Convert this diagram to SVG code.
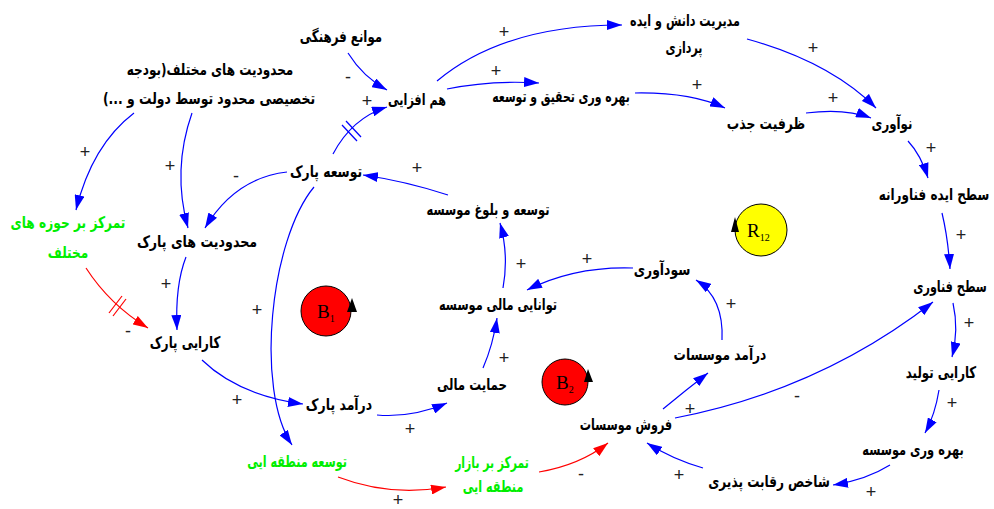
<svg xmlns="http://www.w3.org/2000/svg" width="994" height="509" viewBox="0 0 994 509">
<defs>
<style>
.n{font-family:"DejaVu Sans",sans-serif;font-weight:bold;font-size:16px;fill:#000;text-anchor:middle}
.g{fill:#00ee00}
.s{font-family:"Liberation Sans",sans-serif;font-size:18px;fill:#222;text-anchor:middle}
.c{fill:none;stroke:#0000ff;stroke-width:1.2;marker-end:url(#ab)}
.r{stroke:#ff0000;marker-end:url(#ar)}
.h{stroke:#0000ff;stroke-width:1.2}
.hr{stroke:#ff0000;stroke-width:1.2}
.loop{stroke:#000;stroke-width:1}
.lt{font-family:"Liberation Serif",serif;font-size:19px;fill:#000}
.sub{font-size:10px}
</style>
<marker id="ab" markerWidth="15" markerHeight="10" refX="15" refY="5" orient="auto" markerUnits="userSpaceOnUse"><path d="M0,0 L15,5 L0,10 z" fill="#0000ff"/></marker>
<marker id="ar" markerWidth="15" markerHeight="10" refX="15" refY="5" orient="auto" markerUnits="userSpaceOnUse"><path d="M0,0 L15,5 L0,10 z" fill="#ff0000"/></marker>
</defs>
<rect width="994" height="509" fill="#fff"/>

<g id="connectors">
<path class="c" d="M348,53 Q363,77 387,90"/>
<path class="c" d="M333,154 Q352,118 387,107"/>
<path class="c" d="M437,81 C480,45 540,25 622,25"/>
<path class="c" d="M447,89 Q490,80 539,83"/>
<path class="c" d="M635,93 Q690,92 725,108"/>
<path class="c" d="M747,39 Q830,62 876,108"/>
<path class="c" d="M806,113 Q845,108 871,118"/>
<path class="c" d="M908,141 Q921,155 928,178"/>
<path class="c" d="M942,213 Q948,238 950,269"/>
<path class="c" d="M953,303 Q959,330 952,357"/>
<path class="c" d="M939,390 Q935,415 925,433"/>
<path class="c" d="M890,465 Q866,480 833,485"/>
<path class="c" d="M703,468 Q672,459 647,443"/>
<path class="c" d="M675,418 Q820,390 933,302"/>
<path class="c" d="M663,409 Q686,390 708,373"/>
<path class="c" d="M722,340 Q724,298 696,280"/>
<path class="c" d="M633,268 Q575,266 527,290"/>
<path class="c" d="M483,368 Q493,345 497,318"/>
<path class="c" d="M503,288 Q509,255 500,223"/>
<path class="c" d="M448,195 Q405,181 363,175"/>
<path class="c" d="M287,172 Q235,178 205,228"/>
<path class="c" d="M192,113 Q172,170 188,228"/>
<path class="c" d="M134,113 Q92,145 76,210"/>
<path class="c" d="M186,257 Q175,285 177,330"/>
<path class="c r" d="M86,268 Q110,305 148,328"/>
<path class="c" d="M202,360 Q238,395 303,404"/>
<path class="c" d="M314,187 C270,240 255,390 292,445"/>
<path class="c" d="M377,415 Q412,418 447,403"/>
<path class="c r" d="M338,477 Q390,497 446,487"/>
<path class="c r" d="M539,472 Q580,465 608,443"/>
<line class="h" x1="342" y1="125" x2="357" y2="141"/>
<line class="h" x1="346" y1="121" x2="361" y2="137"/>
<line class="hr" x1="109" y1="313" x2="122" y2="296"/>
<line class="hr" x1="113" y1="316" x2="126" y2="299"/>
</g>

<g id="signs">
<text class="s" x="348" y="83">-</text>
<text class="s" x="367" y="107">+</text>
<text class="s" x="504" y="38">+</text>
<text class="s" x="496" y="77">+</text>
<text class="s" x="697" y="91">+</text>
<text class="s" x="813" y="54">+</text>
<text class="s" x="833" y="104">+</text>
<text class="s" x="931" y="154">+</text>
<text class="s" x="961" y="241">+</text>
<text class="s" x="969" y="329">+</text>
<text class="s" x="952" y="409">+</text>
<text class="s" x="871" y="498">+</text>
<text class="s" x="679" y="481">+</text>
<text class="s" x="797" y="402">-</text>
<text class="s" x="690" y="415">+</text>
<text class="s" x="731" y="310">+</text>
<text class="s" x="587" y="265">+</text>
<text class="s" x="504" y="364">+</text>
<text class="s" x="521" y="270">+</text>
<text class="s" x="417" y="174">+</text>
<text class="s" x="236" y="182">-</text>
<text class="s" x="170" y="172">+</text>
<text class="s" x="85" y="158">+</text>
<text class="s" x="166" y="290">+</text>
<text class="s" x="128" y="337">-</text>
<text class="s" x="237" y="406">+</text>
<text class="s" x="257" y="316">+</text>
<text class="s" x="410" y="435">+</text>
<text class="s" x="398" y="506">+</text>
<text class="s" x="581" y="480">-</text>
</g>

<g id="loop-B1">
<circle class="loop" cx="326" cy="311" r="25" fill="#ff0000"/>
<polygon points="347,312 352,298 357,312" fill="#000"/>
<text class="lt" x="317" y="318">B<tspan class="sub" dy="4">1</tspan></text>
</g>
<g id="loop-B2">
<circle class="loop" cx="565" cy="382" r="23" fill="#ff0000"/>
<polygon points="584,382 588,369 593,382" fill="#000"/>
<text class="lt" x="556" y="389">B<tspan class="sub" dy="4">2</tspan></text>
</g>
<g id="loop-R12">
<circle class="loop" cx="761" cy="230" r="26" fill="#ffff00"/>
<polygon points="731,232 735,217 739,232" fill="#000"/>
<text class="lt" x="747" y="237">R<tspan class="sub" dy="4">12</tspan></text>
</g>

<g id="n-mavane"><text class="n" transform="translate(341,42) scale(0.739,1)">موانع فرهنگی</text></g>
<g id="n-mahdudiat-mokhtalef"><text class="n" transform="translate(210,75) scale(0.755,1)">محدودیت های مختلف(بودجه</text><text class="n" transform="translate(209,104) scale(0.775,1)">تخصیصی محدود توسط دولت و ...)&#x200F;</text></g>
<g id="n-hamafzayi"><text class="n" transform="translate(417,105) scale(0.70,1)">هم افزایی</text></g>
<g id="n-modiriat"><text class="n" transform="translate(685,26) scale(0.70,1)">مدیریت دانش و ایده</text><text class="n" transform="translate(684,53) scale(0.69,1)">پردازی</text></g>
<g id="n-bahrevari-tahghigh"><text class="n" transform="translate(561,102) scale(0.68,1)">بهره وری تحقیق و توسعه</text></g>
<g id="n-zarfiat"><text class="n" transform="translate(766,129) scale(0.773,1)">ظرفیت جذب</text></g>
<g id="n-noavari"><text class="n" transform="translate(892,129) scale(0.738,1)">نوآوری</text></g>
<g id="n-sath-ide"><text class="n" transform="translate(934,200) scale(0.75,1)">سطح ایده فناورانه</text></g>
<g id="n-sath-fanavari"><text class="n" transform="translate(950,292) scale(0.70,1)">سطح فناوری</text></g>
<g id="n-karayi-tolid"><text class="n" transform="translate(941,378) scale(0.738,1)">کارایی تولید</text></g>
<g id="n-bahrevari-moasese"><text class="n" transform="translate(913,455) scale(0.713,1)">بهره وری موسسه</text></g>
<g id="n-shakhes"><text class="n" transform="translate(769,487) scale(0.757,1)">شاخص رقابت پذیری</text></g>
<g id="n-forush"><text class="n" transform="translate(626,430) scale(0.70,1)">فروش موسسات</text></g>
<g id="n-daramad-moasesat"><text class="n" transform="translate(720,360) scale(0.763,1)">درآمد موسسات</text></g>
<g id="n-sudavari"><text class="n" transform="translate(662,275) scale(0.774,1)">سودآوری</text></g>
<g id="n-tavanayi"><text class="n" transform="translate(498,310) scale(0.709,1)">توانایی مالی موسسه</text></g>
<g id="n-tose-bolugh"><text class="n" transform="translate(488,215) scale(0.714,1)">توسعه و بلوغ موسسه</text></g>
<g id="n-tose-park"><text class="n" transform="translate(326,177) scale(0.77,1)">توسعه پارک</text></g>
<g id="n-mahdudiat-park"><text class="n" transform="translate(197,247) scale(0.79,1)">محدودیت های پارک</text></g>
<g id="n-tamarkoz-hoze"><text class="n g" transform="translate(68,228) scale(0.763,1)">تمرکز بر حوزه های</text><text class="n g" transform="translate(68,258) scale(0.757,1)">مختلف</text></g>
<g id="n-karayi-park"><text class="n" transform="translate(185,348) scale(0.74,1)">کارایی پارک</text></g>
<g id="n-daramad-park"><text class="n" transform="translate(339,410) scale(0.778,1)">درآمد پارک</text></g>
<g id="n-hemayat"><text class="n" transform="translate(472,390) scale(0.738,1)">حمایت مالی</text></g>
<g id="n-tose-mantaghe"><text class="n g" transform="translate(297,467) scale(0.70,1)">توسعه منطقه ایی</text></g>
<g id="n-tamarkoz-bazar"><text class="n g" transform="translate(492,468) scale(0.677,1)">تمرکز بر بازار</text><text class="n g" transform="translate(493,492) scale(0.702,1)">منطقه ایی</text></g>
</svg>
